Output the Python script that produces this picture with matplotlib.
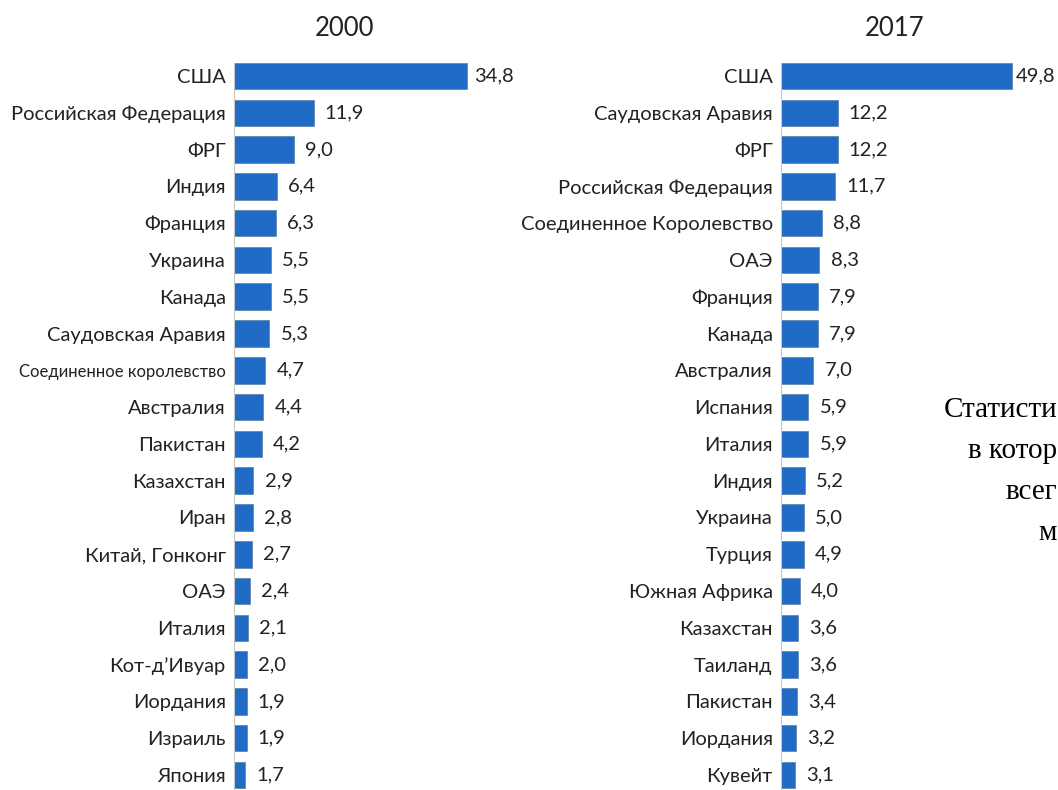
import matplotlib.pyplot as plt

# 2000
countries_2000 = ["США", "Российская Федерация", "ФРГ", "Индия", "Франция", "Украина",
                  "Канада", "Саудовская Аравия", "Соединенное королевство", "Австралия",
                  "Пакистан", "Казахстан", "Иран", "Китай, Гонконг", "ОАЭ", "Италия",
                  "Кот-д’Ивуар", "Иордания", "Израиль", "Япония"]
values_2000 = [34.8, 11.9, 9.0, 6.4, 6.3, 5.5, 5.5, 5.3, 4.7, 4.4,
               4.2, 2.9, 2.8, 2.7, 2.4, 2.1, 2.0, 1.9, 1.9, 1.7]

# 2017
countries_2017 = ["США", "Саудовская Аравия", "ФРГ", "Российская Федерация",
                  "Соединенное Королевство", "ОАЭ", "Франция", "Канада", "Австралия",
                  "Испания", "Италия", "Индия", "Украина", "Турция", "Южная Африка",
                  "Казахстан", "Таиланд", "Пакистан", "Иордания", "Кувейт"]
values_2017 = [49.8, 12.2, 12.2, 11.7, 8.8, 8.3, 7.9, 7.9, 7.0,
               5.9, 5.9, 5.2, 5.0, 4.9, 4.0, 3.6, 3.6, 3.4, 3.2, 3.1]

# fragment of the caption visible at the right edge
side_text = ["Статисти", "в котор", "всег", "м"]

BLUE = "#1F6BC6"
W, H = 1058, 790

fig = plt.figure(figsize=(W / 100, H / 100), dpi=100)
fig.patch.set_facecolor("white")


def panel(left_px, xmax, width_px, names, vals, title, title_x, first_off=8):
    bottom = (H - 793.4) / H
    height = (793.4 - 57.6) / H
    ax = fig.add_axes([left_px / W, bottom, width_px / W, height])
    y = list(range(len(names)))
    ax.barh(y, vals, height=0.72, color=BLUE, edgecolor="#5a7fa8", linewidth=0.5)
    ax.set_ylim(len(names) - 0.5, -0.5)
    ax.set_xlim(0, xmax)
    ax.set_yticks(y)
    ax.set_yticklabels(names, family="Lato", fontsize=14.5, color="#222222")
    ax.tick_params(axis="y", length=0, pad=6)
    ax.set_xticks([])
    for s in ["top", "right", "bottom"]:
        ax.spines[s].set_visible(False)
    ax.spines["left"].set_color("#c8c8c8")
    ax.spines["left"].set_bounds(len(names) - 0.5, -0.36)
    for i, v in enumerate(vals):
        off = first_off if i == 0 else 8
        ax.annotate(f"{v:.1f}".replace(".", ","), (v, i), xytext=(off, 0),
                    textcoords="offset points", va="center", ha="left",
                    family="Lato", fontsize=14.5, color="#222222", annotation_clip=False)
    fig.text(title_x / W, 1 - 28 / H, title, ha="center", va="center",
             family="Lato", fontsize=18.5, color="#222222")
    return ax


ax1 = panel(234, 45, 301, countries_2000, values_2000, "2000", 345, first_off=5)
for lab in ax1.get_yticklabels():
    if lab.get_text() == "Соединенное королевство":
        lab.set_fontsize(12)

ax2 = panel(781, 60, 278, countries_2017, values_2017, "2017", 895, first_off=3)

for k, line in enumerate(side_text):
    fig.text(1057 / W, 1 - (410 + 41 * k) / H, line, ha="right", va="center",
             family="Liberation Serif", fontsize=21, color="black")

fig.savefig("out.png", dpi=100)
